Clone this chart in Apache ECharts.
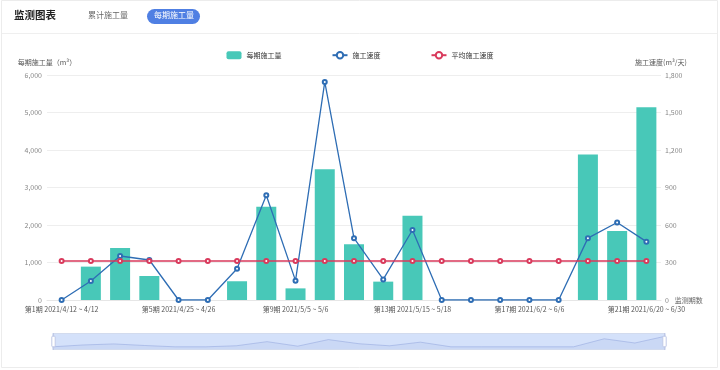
<!DOCTYPE html>
<html>
<head>
<meta charset="utf-8">
<script src="https://cdn.jsdelivr.net/npm/echarts@6/dist/echarts.min.js"></script>
<style>html,body{margin:0;padding:0;background:#fff;}#c{width:720px;height:370px;}</style>
</head>
<body>
<div id="c"></div>
<script>
var categories = [
  '第1期 2021/4/12 ~ 4/12','第2期 2021/4/13 ~ 4/16','第3期 2021/4/17 ~ 4/20','第4期 2021/4/21 ~ 4/24',
  '第5期 2021/4/25 ~ 4/26','第6期 2021/4/27 ~ 4/28','第7期 2021/4/29 ~ 5/1','第8期 2021/5/2 ~ 5/4',
  '第9期 2021/5/5 ~ 5/6','第10期 2021/5/7 ~ 5/8','第11期 2021/5/9 ~ 5/11','第12期 2021/5/12 ~ 5/14',
  '第13期 2021/5/15 ~ 5/18','第14期 2021/5/19 ~ 5/22','第15期 2021/5/23 ~ 5/26','第16期 2021/5/27 ~ 5/29',
  '第17期 2021/6/2 ~ 6/6','第18期 2021/6/7 ~ 6/11','第19期 2021/6/12 ~ 6/15','第20期 2021/6/16 ~ 6/19',
  '第21期 2021/6/20 ~ 6/30'
];
var periodAmount = [0, 890, 1390, 640, 0, 0, 500, 2490, 310, 3485, 1485, 490, 2250, 0, 0, 0, 0, 0, 3880, 1840, 5140];
var speed = [0, 152, 352, 320, 0, 0, 250, 838, 155, 1745, 495, 165, 560, 0, 0, 0, 0, 0, 495, 620, 467];
var avgSpeed = [312, 312, 312, 312, 312, 312, 312, 312, 312, 312, 312, 312, 312, 312, 312, 312, 312, 312, 312, 312, 312];
var leftTicks = { min: 0, max: 6000, interval: 1000 };
var rightTicks = { min: 0, max: 1800, interval: 300 };

var FONT = '"Noto Sans CJK SC", "Noto Sans", sans-serif';
var chart = echarts.init(document.getElementById('c'), null, { renderer: 'canvas' });
chart.setOption({
  animation: false,
  backgroundColor: '#fff',
  textStyle: { fontFamily: FONT },
  graphic: [
    { type: 'rect', shape: { x: 1.5, y: 0.5, width: 716, height: 367 }, style: { fill: 'none', stroke: '#ececec', lineWidth: 1 } },
    { type: 'line', shape: { x1: 2, y1: 33.5, x2: 717, y2: 33.5 }, style: { stroke: '#efefef', lineWidth: 1 } },
    { type: 'text', left: 14, top: 10, style: { text: '监测图表', font: 'bold 10.5px ' + FONT, fill: '#222' } },
    { type: 'text', left: 88, top: 11, style: { text: '累计施工量', font: '8px ' + FONT, fill: '#666' } },
    { type: 'rect', shape: { x: 147, y: 9, width: 53, height: 15, r: 7.5 }, style: { fill: '#4f7fe3' } },
    { type: 'text', left: 154, top: 11, style: { text: '每期施工量', font: '8px ' + FONT, fill: '#fff' } }
  ],
  legend: {
    top: 46,
    left: 'center',
    itemGap: 50,
    itemWidth: 15,
    itemHeight: 8,
    textStyle: { fontSize: 7, color: '#333' },
    data: ['每期施工量', '施工速度', '平均施工速度']
  },
  grid: { left: 47, right: 59, top: 75, bottom: 70, containLabel: false },
  xAxis: {
    type: 'category',
    data: categories,
    boundaryGap: true,
    name: '监测期数',
    nameGap: 9,
    nameTextStyle: { fontSize: 7, color: '#666' },
    axisLine: { lineStyle: { color: '#e6e6e6' } },
    axisTick: { show: false },
    axisLabel: { interval: 3, fontSize: 7, color: '#555', margin: 6 }
  },
  yAxis: [
    {
      type: 'value',
      min: leftTicks.min, max: leftTicks.max, interval: leftTicks.interval,
      name: '每期施工量（m³）',
      nameGap: 9,
      nameTextStyle: { fontSize: 7, color: '#555', align: 'center' },
      axisLine: { show: false },
      axisTick: { show: false },
      axisLabel: { fontSize: 7, color: '#888', margin: 5 },
      splitLine: { lineStyle: { color: '#eeeeee' } }
    },
    {
      type: 'value',
      min: rightTicks.min, max: rightTicks.max, interval: rightTicks.interval,
      name: '施工速度(m³/天)',
      nameGap: 9,
      nameTextStyle: { fontSize: 7, color: '#555' },
      axisLine: { show: false },
      axisTick: { show: false },
      axisLabel: { fontSize: 7, color: '#888', margin: 4 },
      splitLine: { show: false }
    }
  ],
  dataZoom: [
    {
      type: 'slider', xAxisIndex: 0, start: 0, end: 100,
      left: 50, right: 57, top: 333, height: 17,
      showDetail: false, brushSelect: false,
      moveHandleSize: 5,
      moveHandleStyle: { color: '#cfd6e4', opacity: 1 },
      fillerColor: 'rgba(160,190,245,0.35)',
      borderColor: '#d2dbee',
      backgroundColor: 'rgba(225,233,250,0.5)',
      dataBackground: {
        lineStyle: { color: '#aebdeb', width: 0.5 },
        areaStyle: { color: '#b9c8f2', opacity: 0.9 }
      },
      handleSize: '100%'
    }
  ],
  series: [
    {
      name: '每期施工量', type: 'bar', data: periodAmount, yAxisIndex: 0,
      barWidth: 20,
      itemStyle: { color: '#48c8b8' }
    },
    {
      name: '施工速度', type: 'line', data: speed, yAxisIndex: 1,
      symbol: 'emptyCircle', symbolSize: 4,
      lineStyle: { color: '#2e6db4', width: 1.3 },
      itemStyle: { color: '#2e6db4', borderWidth: 1 }
    },
    {
      name: '平均施工速度', type: 'line', data: avgSpeed, yAxisIndex: 1,
      symbol: 'emptyCircle', symbolSize: 4,
      lineStyle: { color: '#d93a5c', width: 1.3 },
      itemStyle: { color: '#d93a5c', borderWidth: 1 }
    }
  ]
});
</script>
</body>
</html>
